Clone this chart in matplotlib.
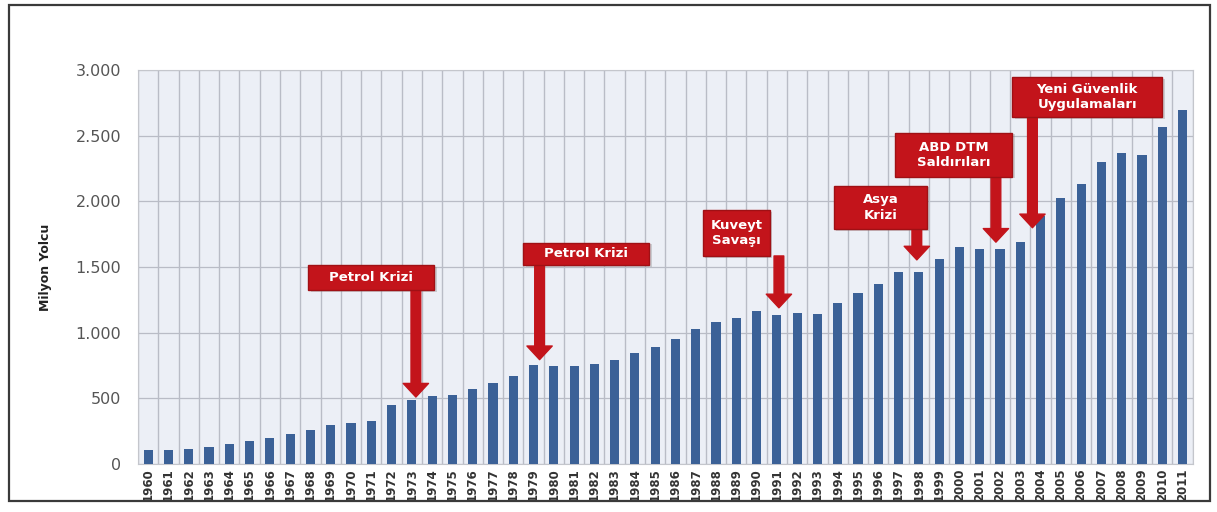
import numpy as np
import matplotlib.pyplot as plt
from matplotlib.patches import Rectangle
from matplotlib.ticker import FuncFormatter

years = list(range(1960, 2012))
passengers = [106, 106, 115, 130, 150, 175, 200, 230, 260, 300,
              310, 330, 450, 490, 515, 525, 575, 615, 670, 755,
              745, 745, 765, 790, 845, 890, 955, 1025, 1085, 1110,
              1165, 1135, 1150, 1140, 1225, 1300, 1375, 1460, 1460, 1560,
              1650, 1635, 1635, 1690, 1890, 2025, 2130, 2300, 2370, 2355,
              2570, 2700]

# label, box centre (category index, value), box width/height, arrow x, arrow tip value
events = [
    ('Petrol Krizi', 11.0, 1420, 6.2, 190, 13.2, 510),
    ('Petrol Krizi', 21.6, 1600, 6.2, 175, 19.3, 795),
    ('Kuveyt\nSavaşı', 29.0, 1760, 3.3, 350, 31.1, 1190),
    ('Asya\nKrizi', 36.1, 1955, 4.6, 330, 37.9, 1555),
    ('ABD DTM\nSaldırıları', 39.7, 2355, 5.8, 335, 41.8, 1690),
    ('Yeni Güvenlik\nUygulamaları', 46.3, 2795, 7.4, 305, 43.6, 1800),
]

red = '#c3141b'
x = np.arange(len(years))

fig = plt.figure(figsize=(12.17, 5.12), dpi=100, facecolor='white')
ax = fig.add_axes([0.1134, 0.0938, 0.8666, 0.769])
ax.set_facecolor('#eceff6')

# outer frame
fig.patches.append(Rectangle((0.007, 0.022), 0.987, 0.968, transform=fig.transFigure,
                             fill=False, edgecolor='#3a3a3a', linewidth=1.6))

ax.bar(x, passengers, width=0.45, color='#3b6197', zorder=3)

for b in np.arange(-0.5, len(years), 1.0):
    ax.axvline(b, color='#b9bcc6', linewidth=1.0, zorder=1)
for v in range(0, 3001, 500):
    ax.axhline(v, color='#b9bcc6', linewidth=0.9, zorder=1)

ax.set_xlim(-0.5, len(years) - 0.5)
ax.set_ylim(0, 3000)
ax.set_xticks(x)
ax.set_xticklabels([str(y) for y in years], rotation=90, fontsize=8.5,
                   fontweight='bold', color='#333333')
ax.set_yticks(range(0, 3001, 500))
ax.yaxis.set_major_formatter(FuncFormatter(lambda v, p: f'{int(v):,}'.replace(',', '.')))
ax.tick_params(axis='y', labelsize=11.5, colors='#555555', length=0, pad=12)
ax.tick_params(axis='x', length=0, pad=3)
ax.set_ylabel('Milyon Yolcu', fontsize=9, fontweight='bold', color='#222222', labelpad=17)
for spine in ax.spines.values():
    spine.set_edgecolor('#c4c6cc')
    spine.set_linewidth(0.8)

for label, cx, cy, w, h, ax_x, tip in events:
    bottom = cy - h / 2
    # soft shadow behind the box
    ax.add_patch(Rectangle((cx - w / 2 + 0.12, bottom - 12), w, h, facecolor='#8a8a8a',
                           alpha=0.35, linewidth=0, zorder=4))
    ax.add_patch(Rectangle((cx - w / 2, bottom), w, h, facecolor=red,
                           edgecolor='#a01015', linewidth=1.0, zorder=5))
    ax.text(cx, cy, label, ha='center', va='center', color='white', fontsize=9.5,
            fontweight='bold', zorder=6, linespacing=1.25)
    ax.annotate('', xy=(ax_x, tip), xytext=(ax_x, bottom),
                arrowprops=dict(arrowstyle='simple,head_length=0.7,head_width=1.3,tail_width=0.5',
                                color=red, mutation_scale=14, shrinkA=0, shrinkB=0),
                zorder=4)

fig.savefig('out.png', dpi=100, facecolor='white')
